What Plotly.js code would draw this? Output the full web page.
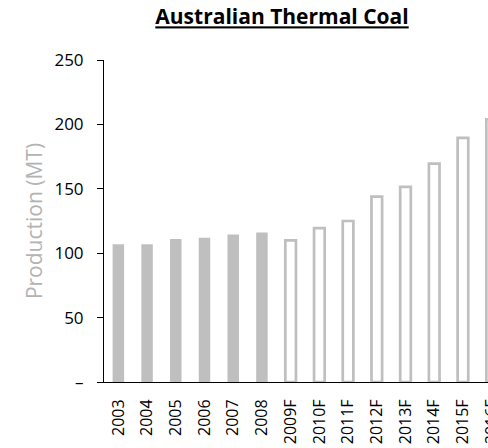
<!DOCTYPE html>
<html>
<head>
<meta charset="utf-8">
<script src="https://cdn.plot.ly/plotly-3.0.1.min.js"></script>
<style>
html, body { margin: 0; padding: 0; overflow: hidden; background: #fff; width: 488px; height: 448px; }
#chart { width: 540px; height: 448px; }
</style>
</head>
<body>
<div id="chart"></div>
<script>
const actualYears = ['2003', '2004', '2005', '2006', '2007', '2008'];
const actualValues = [107, 107, 111, 112, 114.5, 116];
const forecastYears = ['2009F', '2010F', '2011F', '2012F', '2013F', '2014F', '2015F', '2016F'];
const forecastValues = [110, 119.5, 125, 144, 151.5, 169.5, 189.5, 204];
const yTickVals = [0, 50, 100, 150, 200, 250];
const yTickText = ['–', '50', '100', '150', '200', '250'];

const allCats = actualYears.concat(forecastYears);
const FONT = 'Open Sans, DejaVu Sans, sans-serif';

const data = [
  {
    type: 'bar',
    x: actualYears,
    y: actualValues,
    width: 0.4,
    marker: { color: '#bfbfbf', line: { width: 0 } },
    hoverinfo: 'x+y'
  },
  {
    type: 'bar',
    x: forecastYears,
    y: forecastValues,
    width: 0.37,
    marker: { color: '#ffffff', line: { color: '#bfbfbf', width: 2.7 } },
    hoverinfo: 'x+y'
  }
];

const layout = {
  width: 540,
  height: 448,
  margin: { l: 104, r: 34, t: 60, b: 66 },
  paper_bgcolor: '#ffffff',
  plot_bgcolor: '#ffffff',
  showlegend: false,
  barmode: 'overlay',
  font: { family: FONT, color: '#000' },
  title: {
    text: '<b>Australian Thermal Coal</b>',
    font: { family: FONT, size: 21, color: '#000', lineposition: 'under' },
    x: 282 / 540,
    xref: 'container',
    xanchor: 'center',
    y: 1 - 17 / 448,
    yref: 'container',
    yanchor: 'middle'
  },
  xaxis: {
    type: 'category',
    categoryorder: 'array',
    categoryarray: allCats,
    range: [-0.5, allCats.length - 0.5],
    showline: true,
    linecolor: '#000',
    linewidth: 1,
    ticks: '',
    showgrid: false,
    zeroline: false,
    tickangle: -90,
    tickfont: { family: FONT, size: 16, color: '#000' },
    ticklabelstandoff: 10,
    fixedrange: true
  },
  yaxis: {
    range: [0, 250],
    tickvals: yTickVals,
    ticktext: yTickText,
    showline: true,
    linecolor: '#000',
    linewidth: 1,
    ticks: 'outside',
    ticklen: 6,
    tickcolor: '#000',
    showgrid: false,
    zeroline: false,
    tickfont: { family: FONT, size: 17, color: '#000' },
    ticklabelstandoff: 10,
    title: {
      text: 'Production (MT)',
      font: { family: FONT, size: 21, color: '#b3b3b3' },
      standoff: 6
    },
    fixedrange: true
  }
};

Plotly.newPlot('chart', data, layout, { displayModeBar: false, staticPlot: true });
</script>
</body>
</html>
